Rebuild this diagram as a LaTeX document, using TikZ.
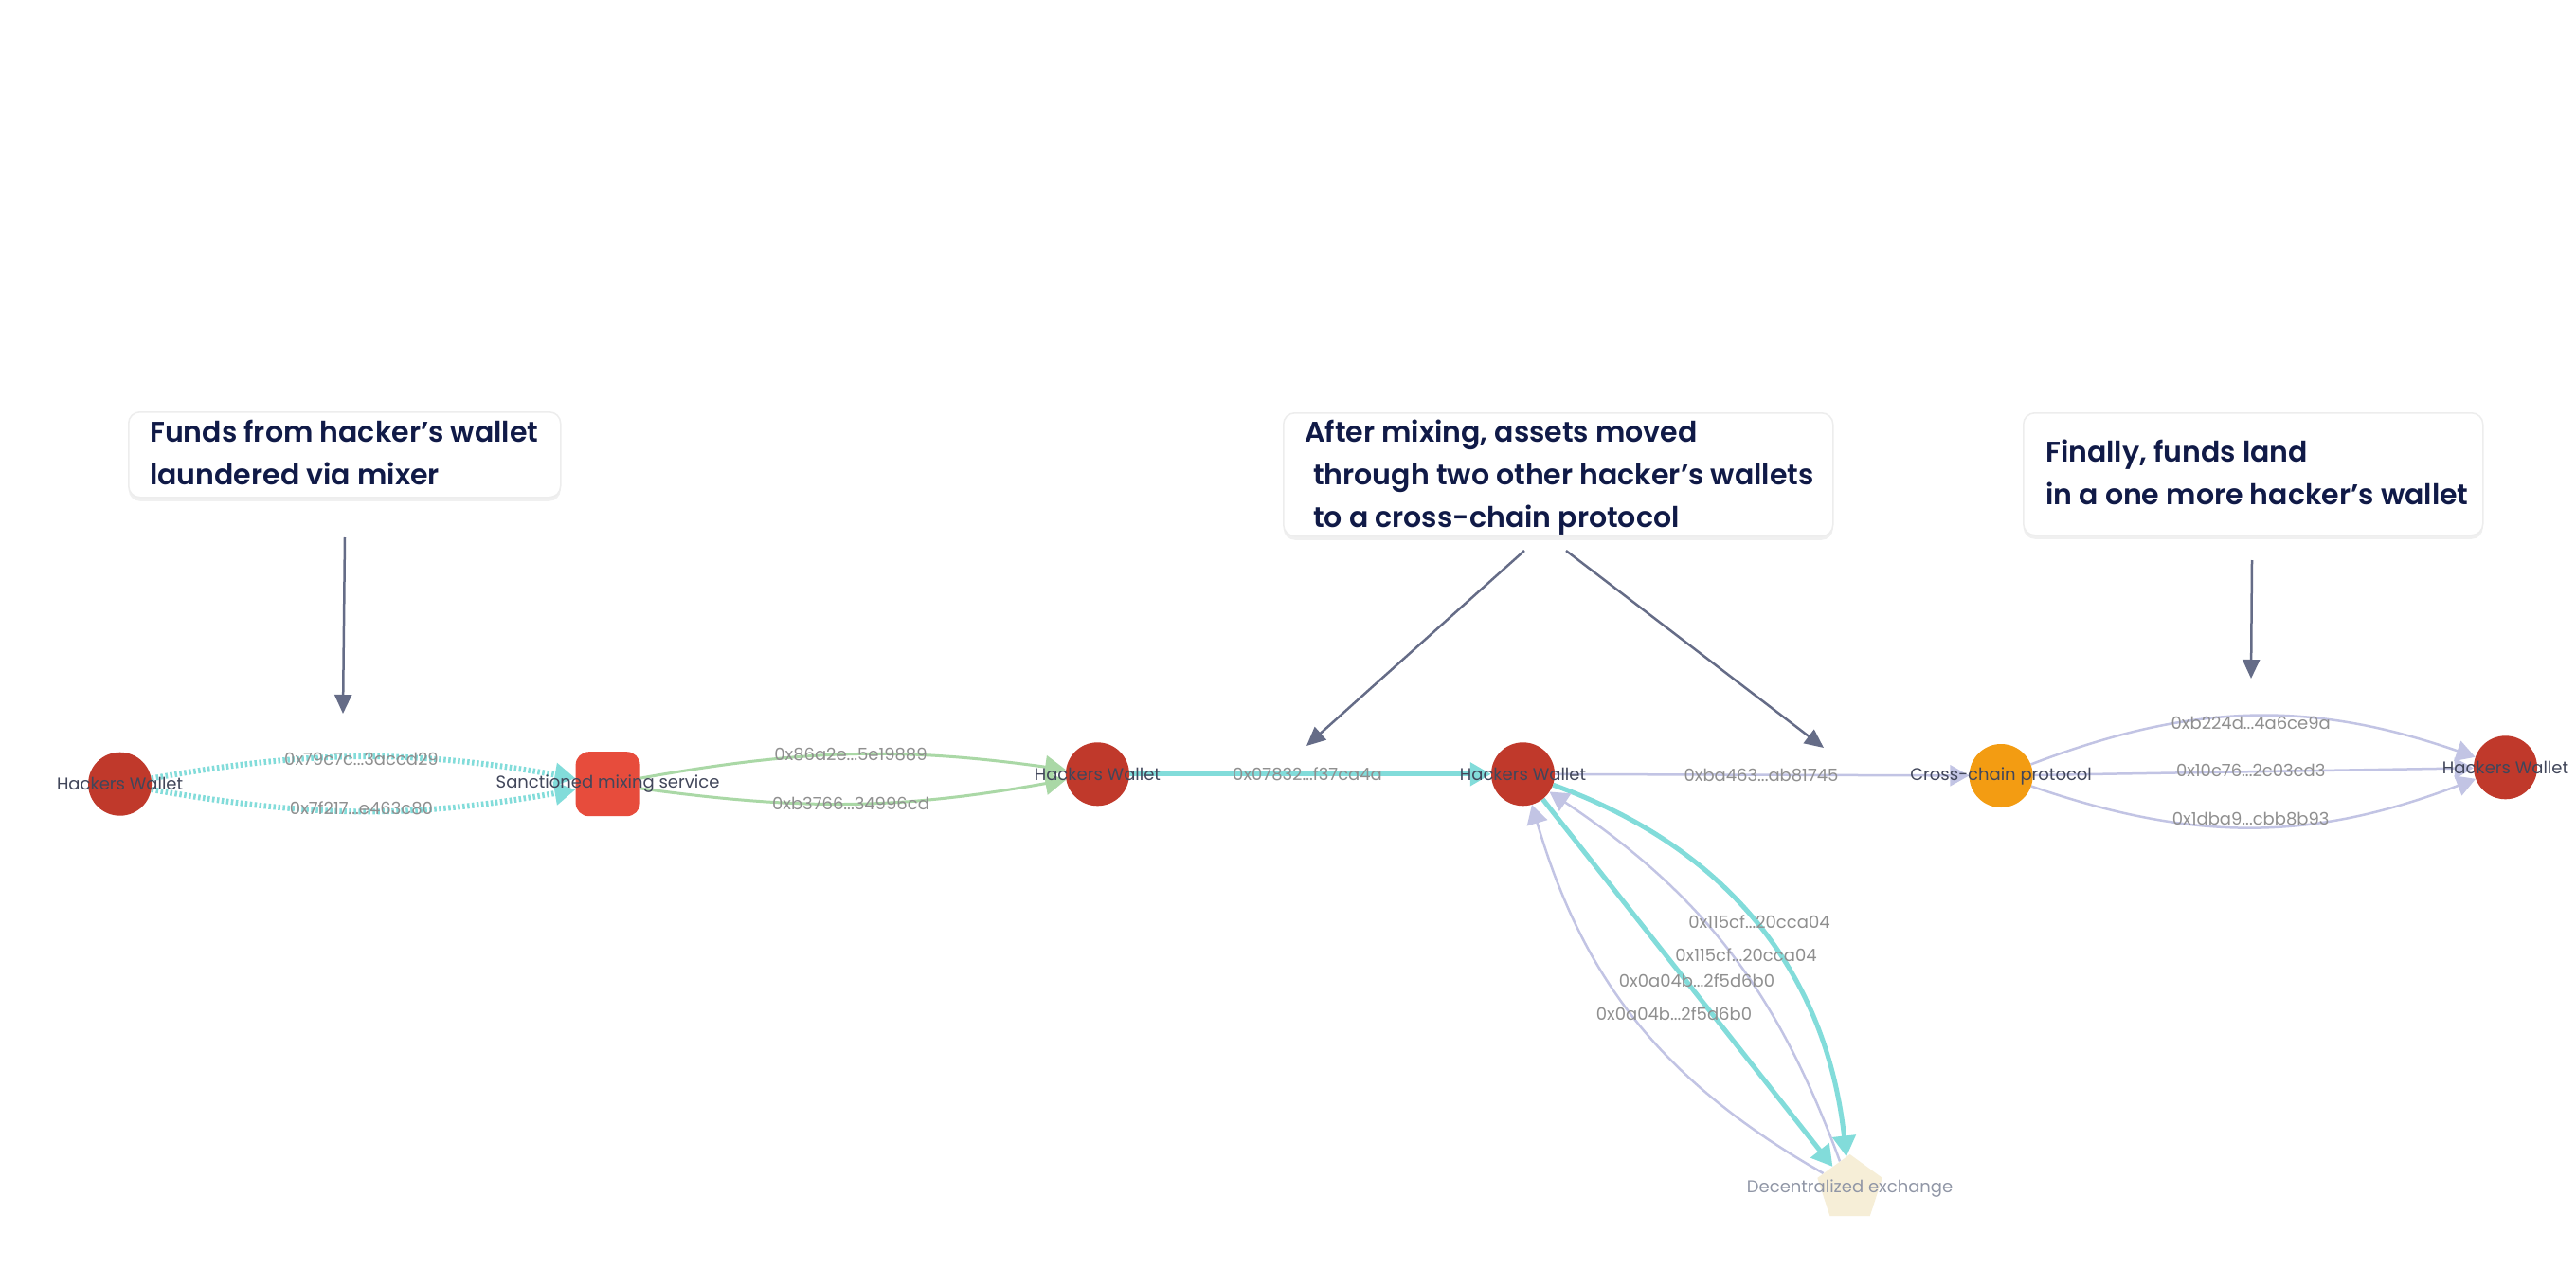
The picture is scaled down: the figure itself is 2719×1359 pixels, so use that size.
\documentclass[tikz,border=0pt]{standalone}
\usepackage{fontspec}
\setmainfont{Poppins}[BoldFont={Poppins SemiBold}]
\usetikzlibrary{arrows.meta,shapes.geometric,shadows}

\definecolor{walletc}{HTML}{C0392B}
\definecolor{mixerc}{HTML}{E74C3C}
\definecolor{bridgec}{HTML}{F39C12}
\definecolor{dexc}{HTML}{F6EED7}
\definecolor{cyanE}{HTML}{82DCDA}
\definecolor{greenE}{HTML}{AAD8A6}
\definecolor{lavE}{HTML}{C2C4E4}
\definecolor{nodetxt}{HTML}{41465A}
\definecolor{dextxt}{HTML}{9096A6}
\definecolor{edgetxt}{HTML}{8F8F8F}
\definecolor{boxtxt}{HTML}{101A47}
\definecolor{annc}{HTML}{656C87}

\pgfdeclarelayer{bg}
\pgfdeclarelayer{edges}
\pgfsetlayers{bg,edges,main}

\begin{document}
\begin{tikzpicture}[x=1pt,y=1pt,
  walletnode/.style={circle, fill=walletc, minimum size=67pt, inner sep=0pt},
  mixernode/.style={rectangle, rounded corners=14pt, fill=mixerc, minimum size=68pt, inner sep=0pt},
  bridgenode/.style={circle, fill=bridgec, minimum size=67pt, inner sep=0pt},
  dexnode/.style={regular polygon, regular polygon sides=5, fill=dexc, minimum size=72pt, inner sep=0pt},
  nlabel/.style={font=\fontsize{18}{21}\selectfont, text=nodetxt, inner sep=0pt},
  dlabel/.style={font=\fontsize{18}{21}\selectfont, text=dextxt, inner sep=0pt},
  elabel/.style={font=\fontsize{18}{21}\selectfont, text=edgetxt, inner sep=0pt},
  cyandot/.style={draw=cyanE, line width=6pt, dash pattern=on 2.5pt off 2.5pt,
    -{Triangle[length=22pt, width=24pt]}},
  cyanedge/.style={draw=cyanE, line width=5pt, -{Triangle[length=22pt, width=24pt]}},
  greenedge/.style={draw=greenE, line width=3pt, -{Triangle[length=22pt, width=24pt]}},
  lavedge/.style={draw=lavE, line width=2.5pt, -{Triangle[length=20pt, width=22pt]}},
  annot/.style={rectangle, rounded corners=12pt, fill=white, draw=black!7, line width=1.5pt,
    drop shadow={shadow xshift=0pt, shadow yshift=-4pt, opacity=0.06, fill=black},
    inner sep=0pt, anchor=north west},
  boxtext/.style={font=\bfseries\fontsize{30}{36}\selectfont, text=boxtxt, inner sep=0pt, anchor=base west},
  annarrow/.style={draw=annc, line width=2.5pt, -{Triangle[length=20pt, width=18pt]}}
]
\useasboundingbox (0,0) rectangle (2719,-1359);
\begin{pgfonlayer}{bg}
\fill[white] (0,0) rectangle (2719,-1359);
\end{pgfonlayer}

% graph nodes
\node[walletnode, label={[nlabel]center:Hackers Wallet}] (hw1) at (126.6,-827.2) {};
\node[mixernode, label={[nlabel]center:Sanctioned mixing service}] (mix) at (641.6,-827.2) {};
\node[walletnode, label={[nlabel]center:Hackers Wallet}] (hw2) at (1158.4,-816.8) {};
\node[walletnode, label={[nlabel]center:Hackers Wallet}] (hw3) at (1607.5,-816.8) {};
\node[bridgenode, label={[nlabel]center:Cross-chain protocol}] (cc) at (2112.1,-818.5) {};
\node[walletnode, label={[nlabel]center:Hackers Wallet}] (hw4) at (2644.5,-809.8) {};
\node[dexnode, label={[dlabel]center:Decentralized exchange}] (dex) at (1952.6,-1254) {};

% edges
\begin{pgfonlayer}{edges}
\draw[cyandot] (hw1) to[bend left=10] (mix);
\draw[cyandot] (hw1) to[bend right=10] (mix);
\draw[greenedge] (mix) to[bend left=9] (hw2);
\draw[greenedge] (mix) to[bend right=9] (hw2);
\draw[cyanedge] (hw2) -- (hw3);
\draw[lavedge] (hw3) -- (cc);
\draw[lavedge] (cc) to[bend left=20] (hw4);
\draw[lavedge] (cc) -- (hw4);
\draw[lavedge] (cc) to[bend right=20] (hw4);
\draw[cyanedge] (hw3) to[bend left=32] (dex);
\draw[cyanedge] (hw3) -- (dex);
\draw[lavedge] (dex) to[bend right=18] (hw3);
\draw[lavedge] (dex) to[bend left=22] (hw3);
\end{pgfonlayer}

% edge labels
\node[elabel] (l1) at (381.5,-801) {0x79c7c...3accd29};
\node[elabel] (l2) at (381.5,-853) {0x7f217...e463c80};
\node[elabel] (l3) at (898,-796) {0x86a2e...5e19889};
\node[elabel] (l4) at (898,-848) {0xb3766...34996cd};
\node[elabel] (l5) at (1380,-817) {0x07832...f37ca4a};
\node[elabel] (l6) at (1859,-818.5) {0xba463...ab81745};
\node[elabel] (l7) at (2375.7,-763) {0xb224d...4a6ce9a};
\node[elabel] (l8) at (2375.7,-813) {0x10c76...2c03cd3};
\node[elabel] (l9) at (2375.7,-863.6) {0x1dba9...cbb8b93};
\node[elabel] (l10) at (1857,-973) {0x115cf...20cca04};
\node[elabel] (l11) at (1843,-1007.5) {0x115cf...20cca04};
\node[elabel] (l12) at (1791,-1035) {0x0a04b...2f5d6b0};
\node[elabel] (l13) at (1767,-1070) {0x0a04b...2f5d6b0};

% annotation boxes
\node[annot, minimum width=456pt, minimum height=90pt] (box1) at (135,-434) {};
\node[boxtext] (t1a) at (158,-466) {Funds from hacker’s wallet};
\node[boxtext] (t1b) at (158,-511) {laundered via mixer};

\node[annot, minimum width=580pt, minimum height=130pt] (box2) at (1354,-435) {};
\node[boxtext] (t2a) at (1377,-466) {After mixing, assets moved};
\node[boxtext] (t2b) at (1386,-511) {through two other hacker’s wallets};
\node[boxtext] (t2c) at (1386,-556) {to a cross-chain protocol};

\node[annot, minimum width=485pt, minimum height=129pt] (box3) at (2135,-435) {};
\node[boxtext] (t3a) at (2159,-487) {Finally, funds land};
\node[boxtext] (t3b) at (2159,-532) {in a one more hacker’s wallet};

% annotation arrows
\coordinate (a1s) at (364,-567);  \coordinate (a1e) at (362,-753);
\coordinate (a2s) at (1609,-581); \coordinate (a2e) at (1379,-787);
\coordinate (a3s) at (1653,-581); \coordinate (a3e) at (1925,-789);
\coordinate (a4s) at (2377,-591); \coordinate (a4e) at (2376,-716);
\draw[annarrow] (a1s) -- (a1e);
\draw[annarrow] (a2s) -- (a2e);
\draw[annarrow] (a3s) -- (a3e);
\draw[annarrow] (a4s) -- (a4e);
\end{tikzpicture}
\end{document}
